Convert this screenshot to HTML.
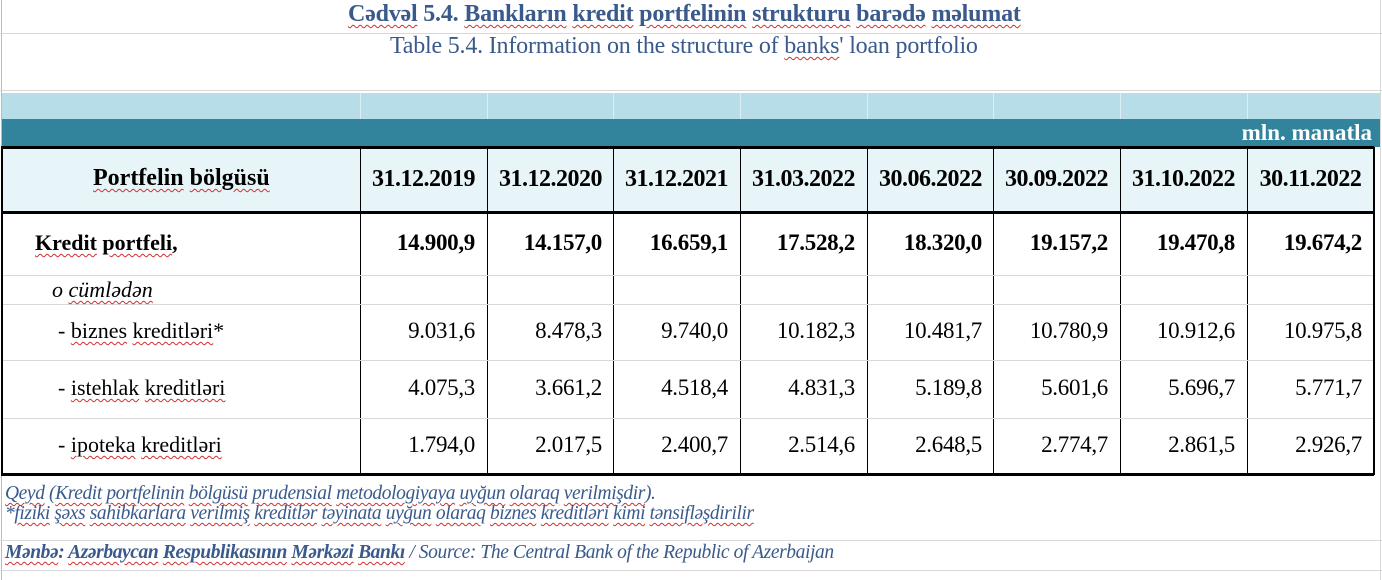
<!DOCTYPE html>
<html><head><meta charset="utf-8"><style>
body{margin:0;width:1382px;height:580px;background:#fff;position:relative;overflow:hidden;font-family:"Liberation Serif",serif}
.a{position:absolute;white-space:nowrap}
.h{position:absolute;height:1px;background:#d8d8d8}
.v{position:absolute;width:1px;background:#d8d8d8}
.tv{position:absolute;width:1px;background:#000;top:147px;height:328px}
.c{position:absolute;font-size:23px;text-align:right;width:115px;letter-spacing:-0.3px}
.b{font-weight:bold}
u{text-decoration:underline wavy #d03030 1px;text-underline-offset:3px}
.n{font-size:19.5px;font-style:italic;color:#3a5a8c;letter-spacing:-0.4px}
</style></head><body>
<div class="v" style="left:1px;top:0;height:580px;background:#bbb"></div>
<div class="v" style="left:1380px;top:0;height:580px"></div>
<div class="h" style="left:0;top:33px;width:1382px"></div>
<div class="h" style="left:0;top:90px;width:1382px"></div>
<div class="a b" style="left:348px;top:1px;font-size:24px;color:#3a5a8c;letter-spacing:-0.2px"><u>Cədvəl</u> 5.4. <u>Bankların</u> <u>kredit</u> <u>portfelinin</u> <u>strukturu</u> <u>barədə</u> <u>məlumat</u></div>
<div class="a" style="left:390px;top:33px;font-size:24px;color:#3a5a8c;letter-spacing:-0.2px">Table 5.4. Information on the structure of <u>banks</u>' loan portfolio</div>
<div class="a" style="left:2px;top:93px;width:1378px;height:26px;background:#b7dde8"></div>
<div class="v" style="left:360px;top:93px;height:26px;background:#dbeef3"></div>
<div class="v" style="left:487px;top:93px;height:26px;background:#dbeef3"></div>
<div class="v" style="left:613px;top:93px;height:26px;background:#dbeef3"></div>
<div class="v" style="left:740px;top:93px;height:26px;background:#dbeef3"></div>
<div class="v" style="left:867px;top:93px;height:26px;background:#dbeef3"></div>
<div class="v" style="left:993px;top:93px;height:26px;background:#dbeef3"></div>
<div class="v" style="left:1120px;top:93px;height:26px;background:#dbeef3"></div>
<div class="v" style="left:1247px;top:93px;height:26px;background:#dbeef3"></div>
<div class="a" style="left:2px;top:119px;width:1378px;height:28px;background:#31849b"></div>
<div class="a b" style="right:10px;top:120px;font-size:23px;color:#fff">mln. manatla</div>
<div class="a" style="left:2px;top:147px;width:1371px;height:65px;background:#e8f5f8"></div>
<div class="a" style="left:1px;top:146px;width:1373px;height:3px;background:#000"></div>
<div class="a" style="left:1px;top:211px;width:1373px;height:3px;background:#000"></div>
<div class="a" style="left:1px;top:473px;width:1373px;height:3px;background:#000"></div>
<div class="tv" style="left:1px;width:2px"></div>
<div class="tv" style="left:360px"></div><div class="tv" style="left:487px"></div><div class="tv" style="left:613px"></div><div class="tv" style="left:740px"></div><div class="tv" style="left:867px"></div><div class="tv" style="left:993px"></div><div class="tv" style="left:1120px"></div><div class="tv" style="left:1247px"></div><div class="tv" style="left:1373px;width:2px"></div>
<div class="h" style="left:3px;top:275px;width:1370px"></div>
<div class="h" style="left:3px;top:304px;width:1370px"></div>
<div class="h" style="left:3px;top:360px;width:1370px"></div>
<div class="h" style="left:3px;top:418px;width:1370px"></div>
<div class="h" style="left:0;top:540px;width:1382px"></div>
<div class="h" style="left:0;top:570px;width:1382px"></div>
<div class="a b" style="left:93px;top:165px;font-size:24px"><u>Portfelin</u> <u>bölgüsü</u></div>
<div class="a b" style="left:35px;top:230px;font-size:22px"><u>Kredit</u> <u>portfeli</u>,</div>
<div class="a" style="left:52px;top:277px;font-size:22px;font-style:italic">o <u>cümlədən</u></div>
<div class="a" style="left:58px;top:318px;font-size:22px">- <u>biznes</u> <u>kreditləri</u>*</div>
<div class="a" style="left:58px;top:375px;font-size:22px">- <u>istehlak</u> <u>kreditləri</u></div>
<div class="a" style="left:58px;top:432px;font-size:22px">- <u>ipoteka</u> <u>kreditləri</u></div>
<div id="cols"></div>
<script>
var L=[360,487,613,740,867,993,1120,1247];
var d=["31.12.2019","31.12.2020","31.12.2021","31.03.2022","30.06.2022","30.09.2022","31.10.2022","30.11.2022"];
var r=[["14.900,9","14.157,0","16.659,1","17.528,2","18.320,0","19.157,2","19.470,8","19.674,2"],
["9.031,6","8.478,3","9.740,0","10.182,3","10.481,7","10.780,9","10.912,6","10.975,8"],
["4.075,3","3.661,2","4.518,4","4.831,3","5.189,8","5.601,6","5.696,7","5.771,7"],
["1.794,0","2.017,5","2.400,7","2.514,6","2.648,5","2.774,7","2.861,5","2.926,7"]];
var ys=[230,318,375,432],h="";
for(var i=0;i<8;i++){
h+='<div class="c b" style="left:'+L[i]+'px;width:127px;text-align:center;top:166px;font-size:24px;letter-spacing:-0.5px">'+d[i]+'</div>';
for(var j=0;j<4;j++)h+='<div class="c'+(j==0?' b':'')+'" style="left:'+L[i]+'px;top:'+ys[j]+'px">'+r[j][i]+'</div>';}
document.getElementById('cols').innerHTML=h;
</script>
<div class="a n" style="left:5px;top:483px"><u>Qeyd</u> (<u>Kredit</u> <u>portfelinin</u> <u>bölgüsü</u> <u>prudensial</u> <u>metodologiyaya</u> <u>uyğun</u> <u>olaraq</u> <u>verilmişdir</u>).</div>
<div class="a n" style="left:5px;top:503px">*<u>fiziki</u> <u>şəxs</u> <u>sahibkarlara</u> <u>verilmiş</u> <u>kreditlər</u> <u>təyinata</u> <u>uyğun</u> <u>olaraq</u> <u>biznes</u> <u>kreditləri</u> <u>kimi</u> <u>tənsifləşdirilir</u></div>
<div class="a n" style="left:5px;top:542px"><b><u>Mənbə</u>: <u>Azərbaycan</u> <u>Respublikasının</u> <u>Mərkəzi</u> <u>Bankı</u></b> / Source: The Central Bank of the Republic of Azerbaijan</div>
</body></html>
